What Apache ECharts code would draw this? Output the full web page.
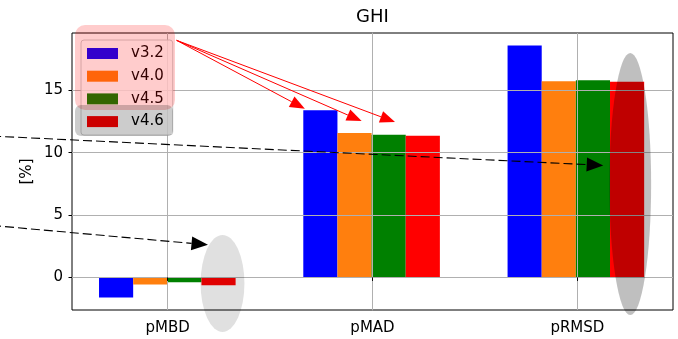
<!DOCTYPE html>
<html>
<head>
<meta charset="utf-8">
<script src="https://cdn.jsdelivr.net/npm/echarts@6/dist/echarts.min.js"></script>
<style>
  html, body { margin: 0; padding: 0; background: #fff; }
  #chart { width: 678px; height: 339px; }
</style>
</head>
<body>
<div id="chart"></div>
<script>
// GHI error metrics per model version
const categories = ['pMBD', 'pMAD', 'pRMSD'];
const versions = ['v3.2', 'v4.0', 'v4.5', 'v4.6'];
const v32 = [-1.60, 13.39, 18.58];
const v40 = [-0.57, 11.57, 15.72];
const v45 = [-0.38, 11.44, 15.80];
const v46 = [-0.62, 11.36, 15.69];
const yTicks = [0, 5, 10, 15];

const seriesValues = [v32, v40, v45, v46];
const seriesColors = ['#0000ff', '#ff7f0e', '#008000', '#ff0000'];

const FONT = 'DejaVu Sans';
const Y_MIN = -2.61, Y_MAX = 19.59;
const X_MIN = -0.4667, X_MAX = 2.4667;

// Plot frame in pixels
const W = 678, H = 339;
const frame = { left: 72, right: 5, top: 33, bottom: 29 };
const plotW = W - frame.left - frame.right;
const plotH = H - frame.top - frame.bottom;
const unit = plotW / (X_MAX - X_MIN);          // px per category step
const firstCenter = frame.left + (0 - X_MIN) * unit;
const yPx = v => frame.top + (Y_MAX - v) / (Y_MAX - Y_MIN) * plotH;
const tickTop = yPx(yTicks[yTicks.length - 1]);
const tickBottom = yPx(yTicks[0]);

const chart = echarts.init(document.getElementById('chart'), null, { renderer: 'canvas' });

const option = {
  animation: false,
  backgroundColor: '#fff',
  textStyle: { fontFamily: FONT },
  title: {
    text: 'GHI',
    left: frame.left + plotW / 2,
    textAlign: 'center',
    top: 8.5,
    padding: 0,
    textStyle: { fontFamily: FONT, fontSize: 18, fontWeight: 'normal', color: '#000' }
  },
  legend: {
    orient: 'vertical',
    left: 81,
    top: 40,
    padding: [6, 9, 6, 6],
    itemGap: 7.7,
    itemWidth: 31,
    itemHeight: 11,
    icon: 'rect',
    backgroundColor: 'rgba(255,255,255,0.8)',
    borderColor: '#cccccc',
    borderWidth: 1,
    borderRadius: 3,
    z: 5,
    data: versions,
    textStyle: { fontFamily: FONT, fontSize: 15, color: '#000', padding: [0, 0, 0, 8] }
  },
  grid: [
    // frame + axis title
    { left: frame.left, right: frame.right, top: frame.top, bottom: frame.bottom,
      show: true, borderColor: '#000', borderWidth: 1, backgroundColor: 'transparent', z: 3 },
    // bar bands: one category step per band
    { left: firstCenter - unit / 2, width: unit * 3, top: frame.top, bottom: frame.bottom },
    // category ticks / vertical grid lines
    { left: firstCenter, width: unit * 2, top: frame.top, bottom: frame.bottom },
    // value ticks / horizontal grid lines, spanning the first to last tick
    { left: frame.left, right: frame.right, top: tickTop, bottom: H - tickBottom }
  ],
  xAxis: [
    { gridIndex: 0, type: 'value', min: X_MIN, max: X_MAX, show: false },
    { gridIndex: 1, type: 'category', data: categories, show: false },
    { gridIndex: 2, type: 'value', min: 0, max: categories.length - 1, interval: 1, z: 3,
      axisLine: { show: false },
      axisTick: { show: true, inside: false, length: 3.5, lineStyle: { color: '#000', width: 1 } },
      axisLabel: { fontFamily: FONT, fontSize: 15, color: '#000', margin: 11,
                   formatter: v => categories[Math.round(v)] },
      splitLine: { show: true, lineStyle: { color: '#b0b0b0', width: 1 } } },
    { gridIndex: 3, type: 'value', min: 0, max: 1, show: false }
  ],
  yAxis: [
    { gridIndex: 0, type: 'value', min: Y_MIN, max: Y_MAX,
      name: '[%]', nameLocation: 'middle', nameRotate: 90, nameGap: 37,
      nameTextStyle: { fontFamily: FONT, fontSize: 15, color: '#000' },
      axisLine: { show: false }, axisTick: { show: false },
      axisLabel: { show: false }, splitLine: { show: false } },
    { gridIndex: 1, type: 'value', min: Y_MIN, max: Y_MAX, show: false },
    { gridIndex: 2, type: 'value', min: Y_MIN, max: Y_MAX, show: false },
    { gridIndex: 3, type: 'value', min: yTicks[0], max: yTicks[yTicks.length - 1],
      interval: yTicks[1] - yTicks[0], z: 3,
      axisLine: { show: false },
      axisTick: { show: true, length: 3.5, lineStyle: { color: '#000', width: 1 } },
      axisLabel: { fontFamily: FONT, fontSize: 15, color: '#000', margin: 9 },
      splitLine: { show: true, lineStyle: { color: '#b0b0b0', width: 1 } } }
  ],
  series: versions.map((name, i) => ({
    name: name,
    type: 'bar',
    xAxisIndex: 1,
    yAxisIndex: 1,
    data: seriesValues[i],
    barWidth: unit / 6,
    barGap: '0%',
    itemStyle: { color: seriesColors[i] },
    z: 2
  }))
};

chart.setOption(option);

// Annotations placed in data space of the frame grid
const toPx = (pt) => chart.convertToPixel({ gridIndex: 0 }, pt);

function arrowHead(tail, tip, len, width) {
  const dx = tip[0] - tail[0], dy = tip[1] - tail[1];
  const d = Math.hypot(dx, dy);
  const ux = dx / d, uy = dy / d;
  const bx = tip[0] - ux * len, by = tip[1] - uy * len;
  const px = -uy * width / 2, py = ux * width / 2;
  return { points: [[tip[0], tip[1]], [bx + px, by + py], [bx - px, by - py]], base: [bx, by] };
}

function arrow(fromData, toData, color, dashed, len, width, lw, z) {
  const a = toPx(fromData), b = toPx(toData);
  const head = arrowHead(a, b, len, width);
  return [
    { type: 'line', silent: true, z: z,
      shape: { x1: a[0], y1: a[1], x2: head.base[0], y2: head.base[1] },
      style: { stroke: color, lineWidth: lw, lineDash: dashed ? [9, 4] : null } },
    { type: 'polygon', silent: true, z: z,
      shape: { points: head.points }, style: { fill: color } }
  ];
}

function ellipse(centerData, rxData, ryData, fill, z) {
  const c = toPx(centerData);
  const e = toPx([centerData[0] + rxData, centerData[1] + ryData]);
  const rx = Math.abs(e[0] - c[0]), ry = Math.abs(e[1] - c[1]);
  return { type: 'circle', silent: true, z: z, x: c[0], y: c[1], scaleY: ry / rx,
           shape: { cx: 0, cy: 0, r: rx }, style: { fill: fill } };
}

const elements = [
  // highlight ellipses around the v4.6 bars
  ellipse([0.268, -0.48], 0.107, 3.89, 'rgba(0,0,0,0.12)', 6),
  ellipse([2.258, 7.48], 0.102, 10.5, 'rgba(0,0,0,0.25)', 6),
  // highlight boxes over the legend
  { type: 'rect', silent: true, z: 7, shape: { x: 75, y: 25, width: 100, height: 85, r: 10 },
    style: { fill: 'rgba(255,0,0,0.2)' } },
  { type: 'rect', silent: true, z: 7, shape: { x: 75, y: 105, width: 98, height: 31, r: 6 },
    style: { fill: 'rgba(0,0,0,0.2)' } },
  // red pointers from the legend to the pMAD bars
  ...arrow([0.044, 19.0], [0.670, 13.51], '#ff0000', false, 15, 12, 1, 8),
  ...arrow([0.044, 19.0], [0.947, 12.53], '#ff0000', false, 15, 12, 1, 8),
  ...arrow([0.044, 19.0], [1.110, 12.45], '#ff0000', false, 15, 12, 1, 8),
  // dashed pointers to the highlighted v4.6 bars
  ...arrow([-0.92, 11.38], [2.126, 8.98], '#000000', true, 16.5, 14, 1.1, 8),
  ...arrow([-0.92, 4.26], [0.197, 2.61], '#000000', true, 16.5, 14, 1.1, 8)
];

chart.setOption({ graphic: { elements: elements } });
</script>
</body>
</html>
